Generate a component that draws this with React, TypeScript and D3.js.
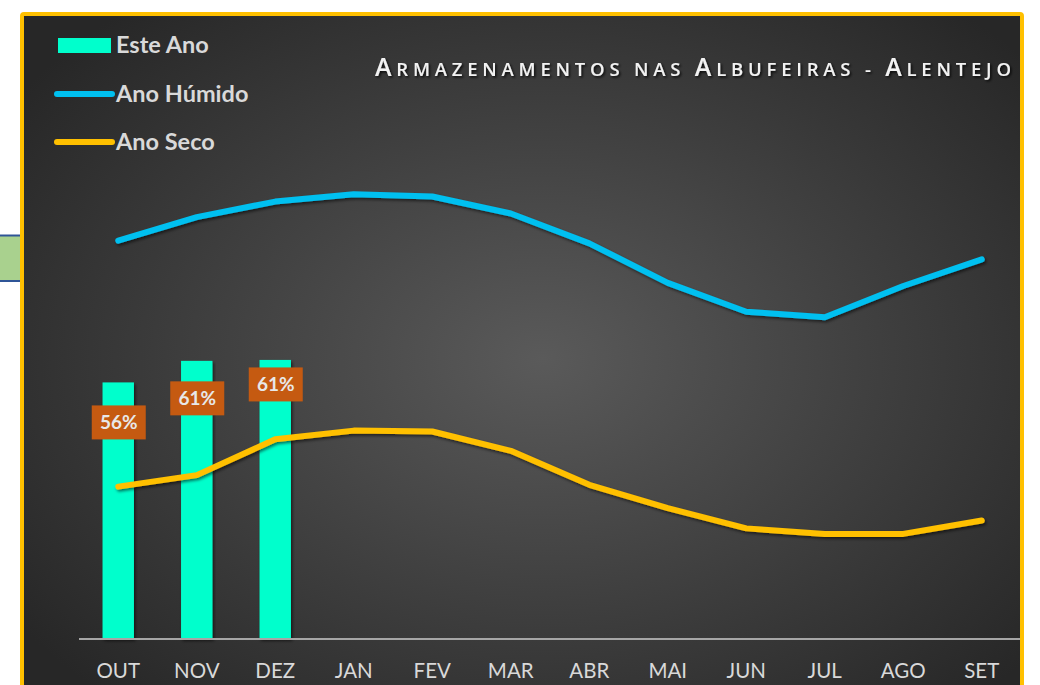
import React from "react";
import * as d3 from "d3";

const months = ["OUT", "NOV", "DEZ", "JAN", "FEV", "MAR", "ABR", "MAI", "JUN", "JUL", "AGO", "SET"];
const esteAno = [55.9, 60.6, 60.8];
const anoHumido = [86.8, 91.9, 95.3, 96.9, 96.4, 92.7, 86.2, 77.6, 71.3, 70.1, 76.9, 82.7];
const anoSeco = [33.2, 35.7, 43.5, 45.4, 45.2, 41.0, 33.6, 28.5, 24.1, 22.9, 22.9, 25.8];
const labelShift = [40, 37.5, 24.5];

const W = 1040;
const H = 685;
const FONT = "Lato, 'Open Sans', sans-serif";
const TITLE = "Armazenamentos nas Albufeiras - Alentejo";

const x = d3.scaleBand<string>().domain(months).range([79, 1021]);
const y = d3.scaleLinear().domain([0, 100]).range([639, 180]);
const step = x.step();
const cx = (m: string) => (x(m) as number) + step / 2;

const line = d3
  .line<number>()
  .x((_, i) => cx(months[i]))
  .y((d) => y(d));

const fmt = d3.format(".0f");

// small caps done by hand: first letter of each word bigger
function titleSpans(t: string) {
  const out: React.ReactNode[] = [];
  let key = 0;
  t.split(" ").forEach((word, wi) => {
    if (wi > 0) out.push(<tspan key={key++} fontSize={18.5}>{" "}</tspan>);
    const first = word[0];
    const rest = word.slice(1);
    const big = first === first.toUpperCase() && /[A-Za-z]/.test(first);
    out.push(
      <tspan key={key++} fontSize={big ? 25 : 18.5}>
        {first.toUpperCase()}
      </tspan>
    );
    if (rest) out.push(<tspan key={key++} fontSize={18.5}>{rest.toUpperCase()}</tspan>);
  });
  return out;
}

export default function App() {
  return (
    <svg width={W} height={H} style={{ position: "absolute", left: 0, top: 0, background: "#fff" }} fontFamily={FONT}>
      <defs>
        <radialGradient id="bg" cx="52%" cy="48%" r="64%">
          <stop offset="0%" stopColor="#5a5a5a" />
          <stop offset="100%" stopColor="#272727" />
        </radialGradient>
        <filter id="shadow" x="-10%" y="-20%" width="120%" height="140%">
          <feDropShadow dx="1.5" dy="2" stdDeviation="1.5" floodColor="#000" floodOpacity="0.55" />
        </filter>
        <filter id="tshadow" x="-5%" y="-30%" width="110%" height="160%">
          <feDropShadow dx="1.5" dy="1.5" stdDeviation="1.2" floodColor="#000" floodOpacity="0.8" />
        </filter>
      </defs>

      {/* piece of a neighbouring shape on the left */}
      <rect x={0} y={235.5} width={22} height={45.5} fill="#A9D18E" />
      <line x1={0} x2={22} y1={235.5} y2={235.5} stroke="#2F5597" strokeWidth={2} />
      <line x1={0} x2={22} y1={281} y2={281} stroke="#2F5597" strokeWidth={2} />

      <rect x={22} y={14} width={1000} height={720} rx={2} fill="url(#bg)" stroke="#FFC000" strokeWidth={4} />

      {/* bars */}
      {esteAno.map((v, i) => (
        <rect
          key={months[i]}
          x={cx(months[i]) - step * 0.2}
          y={y(v)}
          width={step * 0.4}
          height={y(0) - y(v)}
          fill="#00FFCC"
          filter="url(#shadow)"
        />
      ))}

      {/* axis line */}
      <line x1={79} x2={1020} y1={y(0)} y2={y(0)} stroke="#A6A6A6" strokeWidth={2} />

      {months.map((m) => (
        <text key={m} x={cx(m)} y={678} textAnchor="middle" fontSize={20.5} fill="#D9D9D9">
          {m}
        </text>
      ))}

      {/* lines */}
      <path d={line(anoHumido) || ""} fill="none" stroke="#00C0F0" strokeWidth={6} strokeLinecap="round" strokeLinejoin="round" filter="url(#shadow)" />
      <path d={line(anoSeco) || ""} fill="none" stroke="#FFC000" strokeWidth={6} strokeLinecap="round" strokeLinejoin="round" filter="url(#shadow)" />

      {/* data labels */}
      {esteAno.map((v, i) => {
        const lx = cx(months[i]) + 0.5;
        const ly = y(v) + labelShift[i];
        return (
          <g key={"l" + i}>
            <rect x={lx - 27} y={ly - 17} width={54} height={34} fill="#C55A11" />
            <text x={lx} y={ly + 7} textAnchor="middle" fontSize={19} fontWeight={700} fill="#E8E8E8">
              {fmt(v)}%
            </text>
          </g>
        );
      })}

      {/* legend */}
      <rect x={58} y={38} width={53} height={15} fill="#00FFCC" />
      <text x={116} y={53} fontSize={23.5} fontWeight={700} fill="#D9D9D9">Este Ano</text>
      <line x1={57} x2={112} y1={94} y2={94} stroke="#00C0F0" strokeWidth={6} strokeLinecap="round" />
      <text x={116} y={101.5} fontSize={23.5} fontWeight={700} fill="#D9D9D9">Ano Húmido</text>
      <line x1={57} x2={112} y1={142} y2={142} stroke="#FFC000" strokeWidth={6} strokeLinecap="round" />
      <text x={116} y={150} fontSize={23.5} fontWeight={700} fill="#D9D9D9">Ano Seco</text>

      {/* title */}
      <text
        x={375}
        y={76}
        fill="#F2F2F2"
        fontFamily="'Open Sans', Lato, sans-serif"
        fontWeight={600}
        textLength={636}
        lengthAdjust="spacing"
        filter="url(#tshadow)"
      >
        {titleSpans(TITLE)}
      </text>
    </svg>
  );
}
